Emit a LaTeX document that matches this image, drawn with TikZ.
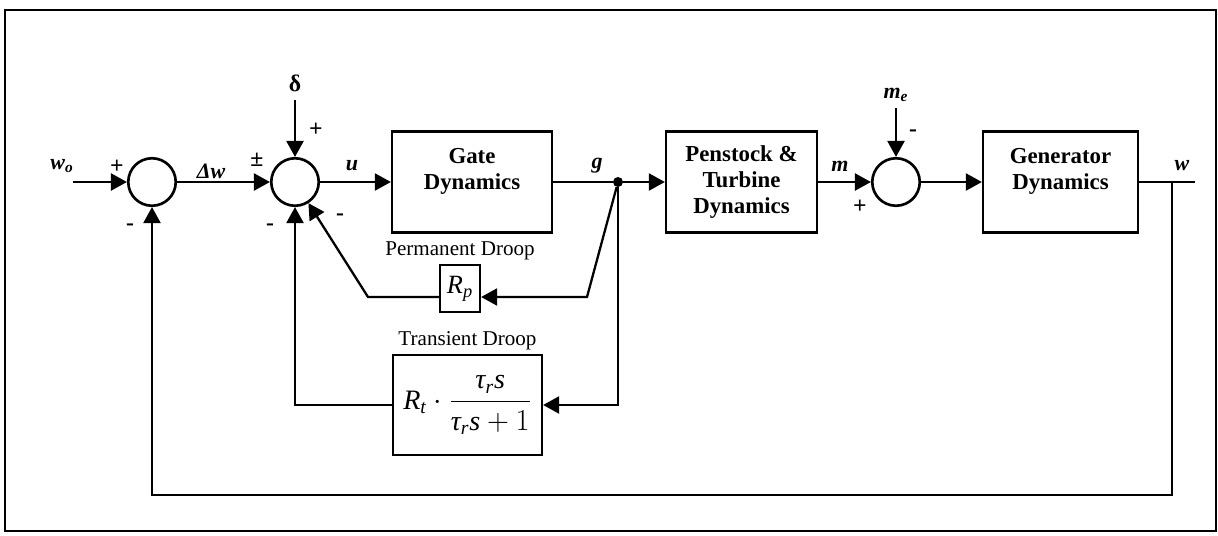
\documentclass[tikz,border=0pt]{standalone}
\usepackage{amsmath}
\usepackage{fontspec}
\setmainfont{Liberation Serif}
\usepackage{tikz}
\usetikzlibrary{arrows.meta, positioning, calc}
\tikzset{
  blockbox/.style={draw, line width=1.3pt, minimum width=#1, minimum height=2.02cm,
      align=center, font=\fontsize{13}{15}\selectfont\bfseries, inner sep=2pt},
  sumnode/.style={draw, circle, line width=1.5pt, minimum size=0.95cm, inner sep=0pt},
  myarrow/.style={-{Triangle[length=3.2mm, width=3.4mm]}, line width=1.3pt},
  myline/.style={line width=1.3pt},
  mylbl/.style={font=\fontsize{12.5}{14}\selectfont\bfseries\itshape},
  signlbl/.style={font=\fontsize{13.5}{14}\selectfont\bfseries},
  droopl/.style={font=\fontsize{12}{13}\selectfont, inner sep=1pt},
}

\begin{document}
\begin{tikzpicture}[x=0.02cm, y=-0.02cm]
  \useasboundingbox (0,0) rectangle (1218,535);
  \draw[line width=1.4pt] (5,10) rectangle (1216,531);

  % summing junctions
  \node[sumnode] (s1) at (152,182) {};
  \node[sumnode] (s2) at (295,182) {};
  \node[sumnode] (s3) at (896,182) {};

  % blocks
  \node[blockbox=3.2cm] (gate) at (472,182) {Gate\\Dynamics\\\mbox{}};
  \node[blockbox=3.02cm] (pen) at (741.5,182) {Penstock \&\\Turbine\\Dynamics};
  \node[blockbox=3.1cm] (gen) at (1060.5,182) {Generator\\Dynamics\\\mbox{}};
  \node[draw, line width=1.3pt, minimum width=0.8cm, minimum height=0.94cm, inner sep=0pt,
      font=\fontsize{15}{17}\selectfont] (rp) at (460,288.5) {$\textit{R}_{\textit{p}}$};
  \node[blockbox=2.98cm, minimum height=2cm, font=\fontsize{16}{19}\selectfont] (trans) at (467.5,405)
      {$\textit{R}_{\textit{t}}\cdot\dfrac{\textit{τ}_{\textit{r}}\textit{s}}{\textit{τ}_{\textit{r}}\textit{s}+1}$};
  \node[droopl, above=1pt of rp] (pdl) {Permanent Droop};
  \node[droopl, above=1pt of trans] (tdl) {Transient Droop};

  % signal ends and corners
  \coordinate (in) at (73,182);
  \coordinate (dtop) at (295,100);
  \coordinate (metop) at (896,108);
  \coordinate (out) at (1195,182);
  \coordinate (tap) at (1172,182);
  \coordinate (fbr) at (1172,495);
  \coordinate (fbl) at (152,495);
  \coordinate (rpr) at (587,297);
  \coordinate (rpl) at (368,297);
  \node[circle, fill, inner sep=0pt, minimum size=0.2cm] (gdot) at (618,182) {};

  % signal labels
  \node[mylbl] (wo) at (62,166) {w\textsubscript{o}};
  \node[mylbl] (dw) at (211,171) {Δw};
  \node[signlbl, above=1pt of dtop] (delta) {δ};
  \node[mylbl] (ul) at (352,166) {u};
  \node[mylbl] (gl) at (597,166) {g};
  \node[mylbl] (ml) at (840,166) {m};
  \node[mylbl, above=0pt of metop] (mel) {m\textsubscript{e}};
  \node[mylbl] (wl) at (1182,166) {w};

  % signs
  \node[signlbl] at (117,167) {+};
  \node[signlbl] at (130,227) {-};
  \node[signlbl] at (257,160) {±};
  \node[signlbl] at (316,130) {+};
  \node[signlbl] at (270,227) {-};
  \node[signlbl] at (340,217) {-};
  \node[signlbl] at (860,207) {+};
  \node[signlbl] at (913,133) {-};

  % forward path
  \draw[myarrow] (in) -- (s1);
  \draw[myarrow] (s1) -- (s2);
  \draw[myarrow] (dtop) -- (s2);
  \draw[myarrow] (s2) -- (gate);
  \draw[myline] (gate) -- (gdot);
  \draw[myarrow] (gdot) -- (pen);
  \draw[myarrow] (pen) -- (s3);
  \draw[myarrow] (metop) -- (s3);
  \draw[myarrow] (s3) -- (gen);
  \draw[myline] (gen) -- (out);

  % feedback loops
  \draw[myarrow] (tap) -- (fbr) -- (fbl) -- (s1);
  \draw[myarrow] (gdot) -- (rpr) -- (rpr -| rp.east);
  \draw[myarrow] (rpr -| rp.west) -- (rpl) -- (s2);
  \draw[myarrow] (gdot) |- (trans);
  \draw[myarrow] (trans) -| (s2);
\end{tikzpicture}
\end{document}
